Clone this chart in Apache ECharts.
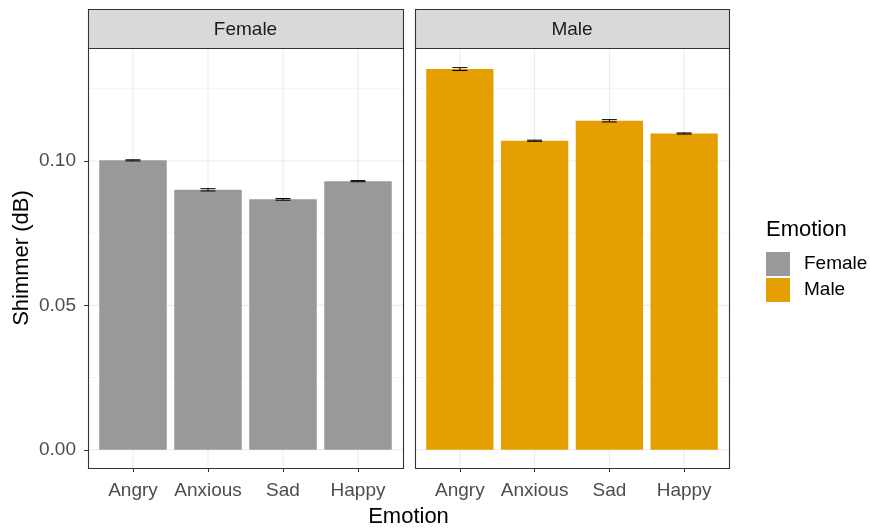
<!DOCTYPE html>
<html>
<head>
<meta charset="utf-8">
<script src="https://cdn.jsdelivr.net/npm/echarts@6/dist/echarts.min.js"></script>
<style>
  html, body { margin: 0; padding: 0; background: #ffffff; }
  #chart { width: 870px; height: 528px; }
</style>
</head>
<body>
<div id="chart"></div>
<script>
// Mean shimmer per emotion, with standard errors, faceted by speaker sex
const emotions = ['Angry', 'Anxious', 'Sad', 'Happy'];
const panels = ['Female', 'Male'];
const femaleMean = [0.1002, 0.0900, 0.0867, 0.0930];
const femaleSe   = [0.0002, 0.0004, 0.0003, 0.0002];
const maleMean   = [0.1318, 0.1070, 0.1139, 0.1095];
const maleSe     = [0.0005, 0.0002, 0.0004, 0.0002];
const yTicks      = [0, 0.05, 0.10];
const yTickLabels = ['0.00', '0.05', '0.10'];
const yMinorGrid  = [0.025, 0.075, 0.125];
const fillColors  = ['#999999', '#E69F00'];

// Panel geometry (pixels)
const panelLeft  = [88, 415];
const panelWidth = [315, 314];
const panelTop = 48, panelHeight = 420;
const stripTop = 9, stripHeight = 39;
const FONT = '"Liberation Sans", Arial, sans-serif';

const means = [femaleMean, maleMean];
const ses = [femaleSe, maleSe];
const xPositions = emotions.map((e, i) => i + 1);

function gridSeries(g) {
  // major and minor panel grid lines drawn in data space
  const data = [];
  yTicks.forEach(v => data.push(['h', v, 'major']));
  yMinorGrid.forEach(v => data.push(['h', v, 'minor']));
  xPositions.forEach(v => data.push(['v', v, 'major']));
  return {
    type: 'custom', xAxisIndex: g, yAxisIndex: g, silent: true, z: 0,
    data: data.map(d => [d[1], d[1]]),
    encode: { x: -1, y: -1 },
    renderItem: function (params, api) {
      const cs = params.coordSys;
      const kind = data[params.dataIndex][0];
      const v = data[params.dataIndex][1];
      const major = data[params.dataIndex][2] === 'major';
      let shape;
      if (kind === 'h') {
        const y = api.coord([1, v])[1];
        shape = { x1: cs.x, y1: y, x2: cs.x + cs.width, y2: y };
      } else {
        const x = api.coord([v, 0])[0];
        shape = { x1: x, y1: cs.y, x2: x, y2: cs.y + cs.height };
      }
      return {
        type: 'line', shape: shape,
        style: { stroke: '#EBEBEB', lineWidth: major ? 1.1 : 0.6 }
      };
    }
  };
}

function barSeries(g) {
  return {
    type: 'custom', name: panels[g], xAxisIndex: g, yAxisIndex: g, z: 2,
    itemStyle: { color: fillColors[g] },
    data: xPositions.map((x, i) => [x, means[g][i]]),
    encode: { x: 0, y: 1 },
    renderItem: function (params, api) {
      const x = api.value(0), v = api.value(1);
      const p0 = api.coord([x - 0.45, v]);
      const p1 = api.coord([x + 0.45, 0]);
      return {
        type: 'rect',
        shape: { x: p0[0], y: p0[1], width: p1[0] - p0[0], height: p1[1] - p0[1] },
        style: { fill: api.visual('color') }
      };
    }
  };
}

function errorSeries(g) {
  return {
    type: 'custom', xAxisIndex: g, yAxisIndex: g, z: 3, silent: true,
    data: xPositions.map((x, i) => [x, means[g][i], ses[g][i]]),
    encode: { x: 0, y: 1 },
    renderItem: function (params, api) {
      const x = api.value(0), m = api.value(1), s = api.value(2);
      const lo = api.coord([x - 0.1, m - s]);
      const hi = api.coord([x + 0.1, m + s]);
      const mid = api.coord([x, m])[0];
      const st = { stroke: '#000000', lineWidth: 1 };
      return {
        type: 'group',
        children: [
          { type: 'line', shape: { x1: lo[0], y1: hi[1], x2: hi[0], y2: hi[1] }, style: st },
          { type: 'line', shape: { x1: lo[0], y1: lo[1], x2: hi[0], y2: lo[1] }, style: st },
          { type: 'line', shape: { x1: mid, y1: hi[1], x2: mid, y2: lo[1] }, style: st }
        ]
      };
    }
  };
}

const graphics = [];
panels.forEach((name, g) => {
  // facet strip
  graphics.push({
    type: 'rect', z: 10,
    shape: { x: panelLeft[g] + 0.5, y: stripTop + 0.5, width: panelWidth[g], height: stripHeight },
    style: { fill: '#D9D9D9', stroke: '#333333', lineWidth: 1.1 }
  });
  graphics.push({
    type: 'text', z: 11,
    x: panelLeft[g] + panelWidth[g] / 2, y: stripTop + stripHeight / 2 + 1,
    style: { text: name, font: '19px ' + FONT, fill: '#1A1A1A', align: 'center', verticalAlign: 'middle' }
  });
  // panel border
  graphics.push({
    type: 'rect', z: 10,
    shape: { x: panelLeft[g] + 0.5, y: panelTop + 0.5, width: panelWidth[g], height: panelHeight },
    style: { fill: null, stroke: '#333333', lineWidth: 1.1 }
  });
});
// axis titles
graphics.push({
  type: 'text', z: 11,
  x: (panelLeft[0] + panelLeft[1] + panelWidth[1]) / 2, y: 517,
  style: { text: 'Emotion', font: '22px ' + FONT, fill: '#000000', align: 'center', verticalAlign: 'middle' }
});
graphics.push({
  type: 'text', z: 11,
  x: 22, y: panelTop + panelHeight / 2, rotation: Math.PI / 2,
  style: { text: 'Shimmer (dB)', font: '22px ' + FONT, fill: '#000000', align: 'center', verticalAlign: 'middle' }
});
// legend title
graphics.push({
  type: 'text', z: 11,
  x: 766, y: 230,
  style: { text: 'Emotion', font: '22px ' + FONT, fill: '#000000', align: 'left', verticalAlign: 'middle' }
});

const option = {
  animation: false,
  backgroundColor: '#ffffff',
  grid: panels.map((p, g) => ({
    left: panelLeft[g], top: panelTop, width: panelWidth[g], height: panelHeight
  })),
  xAxis: panels.map((p, g) => ({
    type: 'value', gridIndex: g, min: 0.4, max: 4.6, position: 'bottom',
    axisLine: { show: false, onZero: false },
    splitLine: { show: false },
    axisTick: {
      show: true, customValues: xPositions, length: 4, inside: false,
      lineStyle: { color: '#333333', width: 1 }
    },
    axisLabel: {
      show: true, customValues: xPositions, margin: 13,
      formatter: v => emotions[Math.round(v) - 1],
      color: '#4D4D4D', fontSize: 19, fontFamily: FONT
    }
  })),
  yAxis: panels.map((p, g) => ({
    type: 'value', gridIndex: g, min: -0.0063, max: 0.1391, position: 'left',
    axisLine: { show: false, onZero: false },
    splitLine: { show: false },
    axisTick: {
      show: g === 0, customValues: yTicks, length: 4,
      lineStyle: { color: '#333333', width: 1 }
    },
    axisLabel: {
      show: g === 0, customValues: yTicks, margin: 12,
      formatter: v => yTickLabels[yTicks.findIndex(t => Math.abs(t - v) < 1e-9)],
      color: '#4D4D4D', fontSize: 19, fontFamily: FONT
    }
  })),
  legend: {
    data: panels,
    orient: 'vertical',
    left: 766, top: 252, padding: 0,
    icon: 'rect',
    itemWidth: 24, itemHeight: 24, itemGap: 2,
    selectedMode: false,
    textStyle: { fontSize: 19, fontFamily: FONT, color: '#000000', padding: [4, 0, 0, 9] }
  },
  graphic: graphics,
  series: [
    gridSeries(0), gridSeries(1),
    barSeries(0), barSeries(1),
    errorSeries(0), errorSeries(1)
  ]
};

const chart = echarts.init(document.getElementById('chart'), null, { renderer: 'canvas' });
chart.setOption(option);
</script>
</body>
</html>
